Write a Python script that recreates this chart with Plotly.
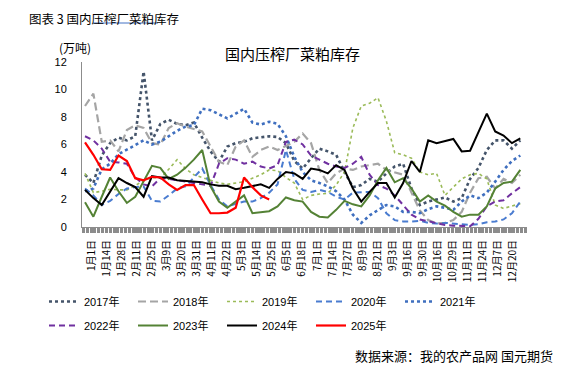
import plotly.graph_objects as go

tick_labels = ["1月1日", "1月14日", "1月28日", "2月11日", "2月25日", "3月9日", "3月20日", "3月31日",
               "4月11日", "4月22日", "5月3日", "5月14日", "5月25日", "6月5日", "6月18日", "7月1日",
               "7月14日", "7月27日", "8月9日", "8月21日", "9月3日", "9月16日", "9月30日", "10月16日",
               "10月29日", "11月11日", "11月24日", "12月7日", "12月20日"]

weeks = list(range(53))

y2017 = [3.8, 3.2, 5.2, 6.1, 6.5, 6.3, 6.6, 11.3, 6.3, 7.5, 7.8, 7.5, 7.4, 7.6, 6.5, 5.5, 4.75, 5.85,
         6.1, 6.2, 6.45, 6.55, 6.6, 6.55, 6.1, 4.8, 4.25, 5.0, 5.7, 5.5, 5.25, 4.0, 2.9, 3.05, 3.5, 3.3,
         3.9, 4.4, 4.6, 2.8, 1.6, 1.85, 2.0, 2.15, 1.85, 2.1, 3.5, 4.3, 5.6, 6.3, 6.3, 5.7, 6.3]
y2018 = [8.8, 9.7, 6.2, 6.3, 5.5, 7.05, 7.4, 7.2, 6.1, 6.0, 7.2, 7.55, 7.3, 7.1, 6.95, 5.85, 4.75, 4.5,
         5.85, 6.3, 5.1, 5.6, 5.85, 5.6, 5.9, 6.2, 6.8, 6.1, 4.15, 3.2, 3.9, 4.25, 4.15, 4.4, 4.5, 4.6,
         4.15, 4.0, 3.8, 2.5, 1.2, 0.5, 0.25, 0.3, 0.5, 1.1, 2.5, 3.55, 3.65, 2.8, 3.5, 3.2, 3.8]
y2019 = [3.9, 2.5, 2.6, 2.75, 2.7, 2.7, 3.0, 3.4, 3.6, 3.55, 4.2, 4.9, 4.25, 3.8, 3.6, 3.4, 3.2, 3.1,
         3.2, 3.3, 3.55, 3.8, 4.15, 4.1, 3.6, 3.2, 2.0, 2.3, 2.4, 2.45, 3.05, 4.0, 7.2, 8.8, 9.0, 9.4,
         7.7, 5.4, 5.25, 5.0, 4.0, 3.8, 3.9, 2.3, 2.9, 3.5, 3.8, 3.9, 3.5, 1.6, 1.35, 1.5, 1.7]
y2020 = [2.8, 2.3, 1.6, 1.9, 2.4, 2.8, 2.9, 2.95, 1.9, 1.85, 2.3, 2.8, 2.95, 3.6, 4.25, 3.05, 2.0, 1.5,
         1.7, 1.85, 1.85, 2.1, 2.5, 3.1, 5.6, 3.5, 2.7, 2.55, 2.7, 2.55, 2.2, 2.0, 2.5, 2.55, 2.55, 2.1,
         1.0, 0.5, 0.4, 0.4, 0.45, 0.3, 0.25, 0.3, 0.25, 0.2, 0.15, 0.2, 0.35, 0.4, 0.55, 1.0, 1.85]
y2021 = [2.6, 2.8, 4.2, 4.6, 5.3, 5.6, 5.95, 6.3, 6.0, 6.2, 6.6, 7.0, 7.3, 7.4, 8.6, 8.5, 8.2, 7.9,
         8.25, 8.6, 7.6, 7.45, 7.65, 7.5, 6.6, 5.1, 4.0, 3.4, 3.2, 2.95, 2.6, 2.0, 0.9, 0.3, 0.85, 1.25,
         1.6, 1.5, 1.1, 1.1, 1.0, 1.3, 1.5, 1.4, 1.25, 1.85, 2.3, 2.1, 2.5, 3.3, 4.15, 4.8, 5.2]
y2022 = [6.6, 6.3, 5.7, 4.75, 4.7, 4.6, 3.6, 3.1, 2.95, 3.55, 3.5, 3.4, 3.3, 3.15, 3.05, 3.0, 4.6, 5.0,
         4.9, 4.6, 4.75, 4.4, 4.25, 4.5, 6.2, 6.35, 6.0, 5.2, 4.9, 4.6, 4.4, 4.3, 4.6, 5.1, 3.8, 3.05,
         2.8, 2.3, 1.6, 0.9, 0.55, 0.4, 0.3, 0.15, 0.1, 0.05, 0.05, 0.6, 1.5, 1.85, 1.95, 2.45, 2.9]
y2023 = [1.8, 0.75, 2.2, 3.6, 2.6, 1.75, 2.2, 3.3, 4.45, 4.3, 3.5, 3.8, 4.3, 4.9, 5.6, 2.95, 1.85, 1.4,
         1.85, 2.3, 1.0, 1.05, 1.15, 1.5, 2.15, 1.95, 1.85, 1.1, 0.75, 0.7, 1.25, 1.9, 1.65, 1.5, 2.3,
         3.4, 4.3, 3.25, 3.55, 2.8, 1.85, 2.3, 1.85, 1.55, 1.1, 0.75, 0.9, 0.9, 1.5, 2.8, 3.2, 3.3, 4.15]
y2024 = [2.7, 2.1, 1.6, 2.6, 3.55, 3.2, 2.9, 2.2, 3.7, 3.6, 3.6, 3.4, 3.35, 3.3, 3.25, 3.1, 3.0, 3.0,
         2.75, 2.85, 3.0, 3.1, 2.85, 3.5, 4.0, 3.9, 3.5, 4.25, 4.15, 3.9, 4.5, 4.15, 2.8, 1.85, 2.55,
         3.2, 3.2, 2.15, 3.2, 4.8, 4.0, 6.3, 6.1, 6.25, 6.4, 5.5, 5.55, 6.9, 8.25, 6.95, 6.65, 6.1, 6.45]
y2025 = [6.15, 5.25, 4.2, 4.15, 5.2, 4.8, 3.55, 3.4, 3.65, 3.6, 3.1, 2.7, 3.05, 3.05, 2.0, 1.0, 1.0,
         1.05, 1.4, 3.6, 2.9, 2.3, 2.0]

series = [
    ("2017年", y2017, "#44546A", 2.6, "dot", "legend"),
    ("2018年", y2018, "#A5A5A5", 2.2, "8px,4px", "legend"),
    ("2019年", y2019, "#9BBB59", 1.6, "dot", "legend"),
    ("2020年", y2020, "#4A7CD0", 2.0, "6px,4px", "legend"),
    ("2021年", y2021, "#3F6FBF", 2.6, "dot", "legend"),
    ("2022年", y2022, "#7030A0", 2.0, "6px,4px", "legend2"),
    ("2023年", y2023, "#548235", 2.0, "solid", "legend2"),
    ("2024年", y2024, "#000000", 2.0, "solid", "legend2"),
    ("2025年", y2025, "#FF0000", 2.2, "solid", "legend2"),
]

fig = go.Figure()
for name, ys, color, width, dash, lg in series:
    fig.add_trace(go.Scatter(x=weeks[:len(ys)], y=ys, name=name, mode="lines", legend=lg,
                             line=dict(color=color, width=width, dash=dash)))

# The page body adds an 8px margin; layout is planned in screen pixels and shifted back.
OFF = 8
W, H = 581, 376
L, T = 82 - OFF, 62 - OFF
pw, ph = 445, 165
R = W - L - pw
B = H - T - ph

def px(x):
    return (x - OFF - L) / pw

def py(y):
    return (T + ph - (y - OFF)) / ph

cjk = "Noto Sans CJK SC, sans-serif"
lat = "Liberation Sans, Noto Sans CJK SC, sans-serif"

n = len(tick_labels)
tickvals = [0.8 + k * (51.1 - 0.8) / (n - 1) for k in range(n)]

legend_common = dict(orientation="h", xanchor="left", yanchor="top",
                     entrywidth=44, entrywidthmode="pixels",
                     font=dict(family=lat, size=11, color="#000"), bgcolor="rgba(0,0,0,0)",
                     traceorder="normal", itemwidth=30)

fig.update_layout(
    width=W, height=H,
    margin=dict(l=L, r=R, t=T, b=B, autoexpand=False),
    paper_bgcolor="white", plot_bgcolor="white",
    font=dict(family=cjk, color="#000000", size=11),
    showlegend=True,
    legend=dict(x=px(44), y=py(287), **legend_common),
    legend2=dict(x=px(44), y=py(311), **legend_common),
    xaxis=dict(range=[-0.36, 52.8], showgrid=False, zeroline=False,
               showline=True, linecolor="#8c8c8c", linewidth=1,
               tickmode="array", tickvals=tickvals, ticktext=tick_labels, tickangle=-90,
               ticks="outside", ticklen=5, tickwidth=2.5, tickcolor="#8c8c8c",
               ticklabelstandoff=3,
               tickfont=dict(family=cjk, size=10, color="#000"),
               minor=dict(tickmode="linear", tick0=-0.2, dtick=0.459, ticks="outside",
                          ticklen=5, tickwidth=2.5, tickcolor="#8c8c8c")),
    yaxis=dict(range=[0, 12], tickvals=[0, 2, 4, 6, 8, 10, 12], showgrid=False, zeroline=False,
               showline=True, linecolor="#8c8c8c", linewidth=1, ticks="",
               ticklabelstandoff=12,
               tickfont=dict(family=lat, size=11, color="#000")),
)

fig.add_annotation(text="图表 3 国内压榨厂菜粕库存", x=px(28), y=py(8), xref="paper", yref="paper",
                   xanchor="left", yanchor="top", showarrow=False, borderpad=0,
                   font=dict(family=cjk, size=12.5, color="#000"))
fig.add_shape(type="line", xref="paper", yref="paper", x0=px(93), x1=px(158), y0=py(23), y1=py(23),
              line=dict(color="#4472C4", width=1))
fig.add_annotation(text="国内压榨厂菜粕库存", x=px(292), y=py(54), xref="paper", yref="paper",
                   xanchor="center", yanchor="middle", showarrow=False,
                   font=dict(family=cjk, size=15, color="#000"))
fig.add_annotation(text="(万吨)", x=px(75), y=py(47), xref="paper", yref="paper",
                   xanchor="center", yanchor="middle", showarrow=False,
                   font=dict(family=cjk, size=12, color="#000"))
fig.add_annotation(text="数据来源：我的农产品网 国元期货", x=px(555), y=py(355), xref="paper", yref="paper",
                   xanchor="right", yanchor="middle", showarrow=False,
                   font=dict(family=cjk, size=13, color="#000"))

fig.write_html("out.html")
